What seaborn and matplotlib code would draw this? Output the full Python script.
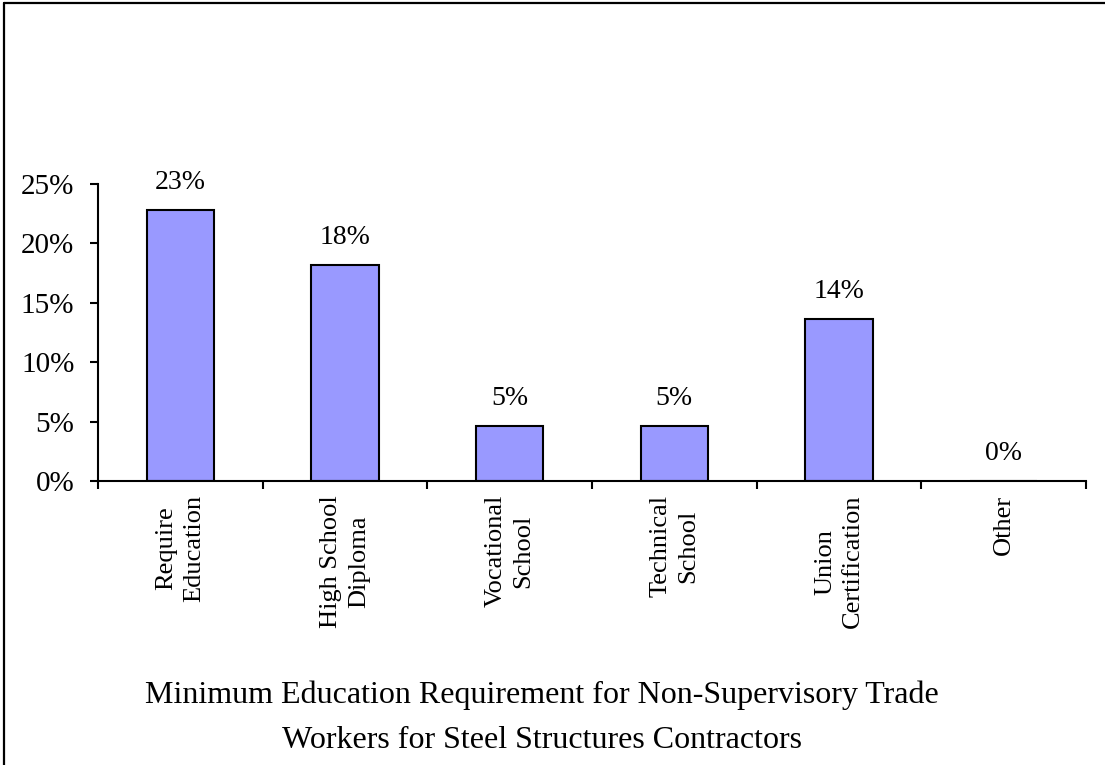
import matplotlib
matplotlib.use("Agg")
import matplotlib.pyplot as plt
import matplotlib.ticker as mticker
from matplotlib.lines import Line2D
import pandas as pd
import seaborn as sns

categories = ["Require\nEducation", "High School\nDiploma", "Vocational\nSchool",
              "Technical\nSchool", "Union\nCertification", "Other"]
shares = [0.228, 0.182, 0.046, 0.046, 0.136, 0.0]
value_labels = ["23%", "18%", "5%", "5%", "14%", "0%"]
title_lines = ["Minimum Education Requirement for Non-Supervisory Trade",
               "Workers for Steel Structures Contractors"]


def main():
    sns.set_theme(style="white")
    plt.rcParams["font.family"] = ["Liberation Serif", "DejaVu Serif"]
    plt.rcParams["text.color"] = "black"
    plt.rcParams["xtick.color"] = "black"
    plt.rcParams["ytick.color"] = "black"

    df = pd.DataFrame({"category": categories, "share": shares})

    fig = plt.figure(figsize=(11.05, 7.65), dpi=100)
    ax = fig.add_axes([98 / 1105, 1 - 481 / 765, (1086 - 98) / 1105, (481 - 184) / 765])

    sns.barplot(data=df, x="category", y="share", color="#9999FF", saturation=1,
                width=0.41, edgecolor="black", linewidth=1.5, ax=ax)

    for i, (v, lab) in enumerate(zip(shares, value_labels)):
        ax.annotate(lab, (i, v), xytext=(0, 11), textcoords="offset points",
                    ha="center", va="bottom", fontsize=20, color="black")

    ax.set_xlim(-0.5, len(categories) - 0.5)
    ax.set_ylim(0, 0.25)
    ax.yaxis.set_major_locator(mticker.MultipleLocator(0.05))
    ax.yaxis.set_major_formatter(mticker.FuncFormatter(lambda v, p: f"{v * 100:.0f}%"))
    ax.tick_params(axis="y", direction="out", length=6, width=1.5, color="black",
                   labelsize=21, pad=11, left=True, labelcolor="black")

    ax.set_xticks(range(len(categories)))
    ax.set_xticklabels(categories, rotation=90, fontsize=19, linespacing=1.35,
                       ha="center", va="top", multialignment="center")
    ax.tick_params(axis="x", which="major", length=0, pad=10, labelcolor="black")
    ax.set_xticks([i - 0.5 for i in range(len(categories) + 1)], minor=True)
    ax.tick_params(axis="x", which="minor", direction="out", length=6, width=1.5,
                   color="black", bottom=True)

    ax.set_xlabel("")
    ax.set_ylabel("")
    for side in ["top", "right"]:
        ax.spines[side].set_visible(False)
    for side in ["left", "bottom"]:
        ax.spines[side].set_color("black")
        ax.spines[side].set_linewidth(1.5)

    # chart area frame: only top and left edges show
    fig.add_artist(Line2D([3.5 / 1105, 1], [1 - 2.5 / 765, 1 - 2.5 / 765],
                          transform=fig.transFigure, color="black", lw=1.6))
    fig.add_artist(Line2D([3.5 / 1105, 3.5 / 1105], [0, 1 - 2.5 / 765],
                          transform=fig.transFigure, color="black", lw=1.6))

    for y, line in zip([703, 748], title_lines):
        fig.text(542 / 1105, 1 - y / 765, line, ha="center", va="baseline",
                 fontsize=23, color="black")

    fig.savefig("out.png", dpi=100)
    plt.close(fig)


if __name__ == "__main__":
    main()
